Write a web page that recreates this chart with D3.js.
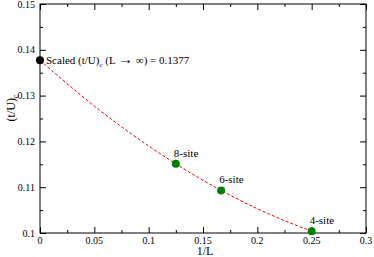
<!DOCTYPE html>
<html>
<head>
<meta charset="utf-8">
<script src="https://cdn.jsdelivr.net/npm/d3@7"></script>
<style>
  body { margin: 0; background: #fff; }
  svg { display: block; }
</style>
</head>
<body>
<svg id="chart" width="374" height="257"></svg>
<script>
// cluster sizes, 1/L, critical (t/U)c
const siteLabels = ['8-site', '6-site', '4-site'];
const invL = [0.125, 0.1667, 0.25];
const tuc = [0.1151, 0.1093, 0.1004];

// extrapolated value at 1/L = 0
const extrapX = 0;
const extrapY = 0.1377;

// dashed fit curve
const fitX = [0, 0.025, 0.05, 0.075, 0.1, 0.125, 0.15, 0.1667, 0.2, 0.225, 0.25];
const fitY = [0.1377, 0.1326, 0.1277, 0.1232, 0.1190, 0.1151, 0.1115, 0.1093, 0.1053, 0.1027, 0.1004];

const xTicks = [0, 0.05, 0.1, 0.15, 0.2, 0.25, 0.3];
const xMinor = [0.025, 0.075, 0.125, 0.175, 0.225, 0.275];
const yTicks = [0.1, 0.11, 0.12, 0.13, 0.14, 0.15];
const yMinor = [0.105, 0.115, 0.125, 0.135, 0.145];

const plotL = 40, plotR = 366, plotT = 4, plotB = 233;
const serif = "'Liberation Serif', Times, serif";

const x = d3.scaleLinear().domain([0, 0.3]).range([plotL, plotR]);
const y = d3.scaleLinear().domain([0.1, 0.15]).range([plotB, plotT]);

const svg = d3.select('#chart').attr('font-family', serif);

// frame
svg.append('rect')
  .attr('x', plotL).attr('y', plotT)
  .attr('width', plotR - plotL).attr('height', plotB - plotT)
  .attr('fill', 'none')
  .attr('stroke', '#000')
  .attr('stroke-width', 1);

// ticks pointing inward on all four sides
function ticks(g, axisFn, scale, vals, size, tx) {
  g.append('g')
    .attr('transform', tx)
    .call(axisFn(scale).tickValues(vals).tickSize(size).tickFormat(''))
    .call((s) => s.select('.domain').remove())
    .call((s) => s.selectAll('line').attr('stroke', '#000'));
}
ticks(svg, d3.axisTop, x, xTicks, 6, `translate(0, ${plotB})`);
ticks(svg, d3.axisTop, x, xMinor, 3, `translate(0, ${plotB})`);
ticks(svg, d3.axisBottom, x, xTicks, 6, `translate(0, ${plotT})`);
ticks(svg, d3.axisBottom, x, xMinor, 3, `translate(0, ${plotT})`);
ticks(svg, d3.axisRight, y, yTicks, 6, `translate(${plotL}, 0)`);
ticks(svg, d3.axisRight, y, yMinor, 3, `translate(${plotL}, 0)`);
ticks(svg, d3.axisLeft, y, yTicks, 6, `translate(${plotR}, 0)`);
ticks(svg, d3.axisLeft, y, yMinor, 3, `translate(${plotR}, 0)`);

// tick labels
svg.append('g')
  .selectAll('text')
  .data(xTicks)
  .enter()
  .append('text')
  .attr('x', (d) => x(d))
  .attr('y', plotB + 11)
  .attr('text-anchor', 'middle')
  .attr('font-size', 10)
  .text((d) => d);

svg.append('g')
  .selectAll('text')
  .data(yTicks)
  .enter()
  .append('text')
  .attr('x', plotL - 5)
  .attr('y', (d) => y(d) + 3.5)
  .attr('text-anchor', 'end')
  .attr('font-size', 10)
  .text((d) => d);

// axis titles
svg.append('text')
  .attr('x', 205)
  .attr('y', 254.5)
  .attr('text-anchor', 'middle')
  .attr('font-size', 12)
  .text('1/L');

const ylab = svg.append('text')
  .attr('transform', `translate(15, 108) rotate(-90)`)
  .attr('text-anchor', 'middle')
  .attr('font-size', 12);
ylab.append('tspan').text('(t/U)');
ylab.append('tspan').attr('font-size', 8).attr('dy', 3).text('c');

// fit curve
const fit = fitX.map((v, i) => [v, fitY[i]]);
svg.append('path')
  .datum(fit)
  .attr('fill', 'none')
  .attr('stroke', '#ff0000')
  .attr('stroke-width', 1)
  .attr('stroke-dasharray', '3,2')
  .attr('d', d3.line().curve(d3.curveMonotoneX).x((d) => x(d[0])).y((d) => y(d[1])));

// cluster points
const pts = invL.map((v, i) => ({ x: v, y: tuc[i], label: siteLabels[i] }));
svg.append('g')
  .selectAll('circle')
  .data(pts)
  .enter()
  .append('circle')
  .attr('cx', (d) => x(d.x))
  .attr('cy', (d) => y(d.y))
  .attr('r', 4)
  .attr('fill', '#008000');

svg.append('g')
  .selectAll('text')
  .data(pts)
  .enter()
  .append('text')
  .attr('x', (d) => x(d.x) - 2)
  .attr('y', (d) => y(d.y) - 7)
  .attr('font-size', 11)
  .text((d) => d.label);

// extrapolated point
svg.append('circle')
  .attr('cx', x(extrapX))
  .attr('cy', y(extrapY))
  .attr('r', 4)
  .attr('fill', '#000');

const note = svg.append('text')
  .attr('x', x(extrapX) + 6)
  .attr('y', y(extrapY) + 3.5)
  .attr('font-size', 11);
note.append('tspan').text('Scaled (t/U)');
note.append('tspan').attr('font-size', 7).attr('dy', 3).text('c');
note.append('tspan').attr('dy', -3).text(' (L ');
note.append('tspan').attr('font-size', 15).text('\u2192');
note.append('tspan').text(' \u221E) = ' + extrapY);
</script>
</body>
</html>
